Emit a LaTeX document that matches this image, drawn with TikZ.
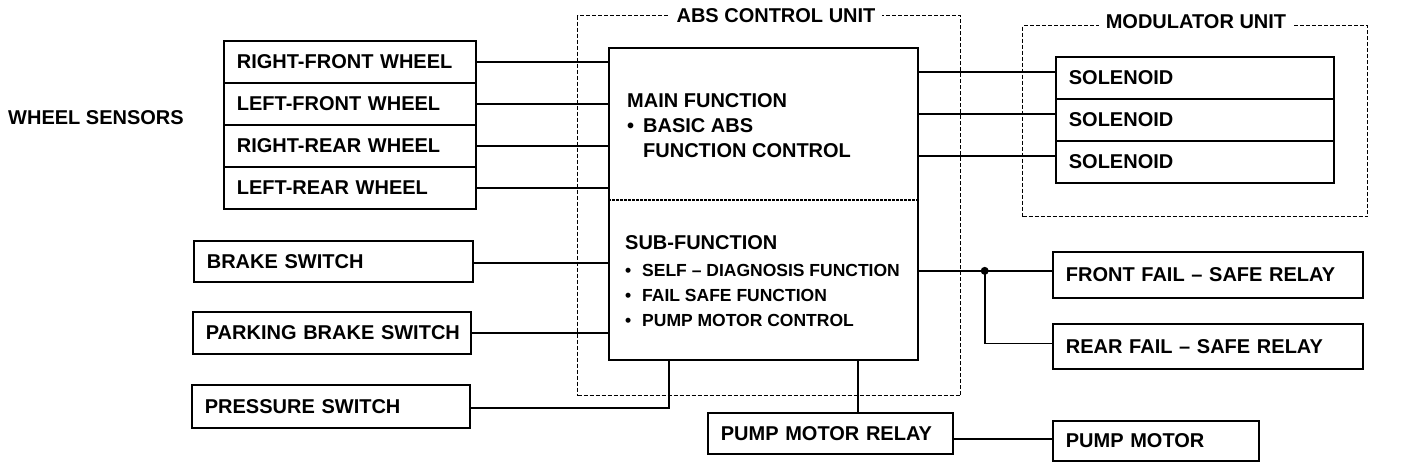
\documentclass[tikz,border=0pt]{standalone}
\usepackage{fontspec}
\setmainfont{Liberation Sans}
\usetikzlibrary{calc}
\begin{document}
\begin{tikzpicture}[x=1pt,y=-1pt,
  lbl/.style={font=\fontsize{20}{25}\selectfont\bfseries},
  sbox/.style n args={3}{draw, line width=1.7pt, anchor=north west, inner xsep=13pt, inner ysep=0pt,
     minimum width=#1, minimum height=#2, text width=#3, align=left, lbl},
  conn/.style={line width=1.6pt},
  grp/.style={draw, line width=1.2pt, dash pattern=on 4pt off 2pt, anchor=north west, inner sep=0pt},
  grptitle/.style={lbl, fill=white, inner xsep=7pt, inner ysep=1pt},
  divider/.style={line width=1.2pt, dash pattern=on 2.5pt off 1.5pt}]
\useasboundingbox (0,0) rectangle (1424,472);

% groups
\node[grp, minimum width=383, minimum height=380] (abs) at (577,15) {};
\node[grptitle] (abstitle) at (776,16) {ABS CONTROL UNIT};
\node[grp, minimum width=345, minimum height=191] (mod) at (1022,25) {};
\node[grptitle] (modtitle) at (1196,22) {MODULATOR UNIT};

% control box
\node[draw, line width=1.7pt, anchor=north west, minimum width=309, minimum height=312, inner sep=0pt] (ctrl) at (608,47) {};
\draw[divider] (ctrl.west |- 0,200) -- (ctrl.east |- 0,200);
\node[lbl, anchor=north west, inner sep=0pt, align=left] (mainf) at (627,93)
  {MAIN FUNCTION\\\makebox[16pt][l]{•}BASIC ABS\\\makebox[16pt][l]{}FUNCTION CONTROL};
\node[lbl, anchor=north west, inner sep=0pt] (subf) at (625,235) {SUB-FUNCTION};
\node[anchor=north west, inner sep=0pt, align=left, font=\fontsize{17.5}{25}\selectfont\bfseries] (subitems) at (625,264)
  {\makebox[17pt][l]{•}SELF – DIAGNOSIS FUNCTION\\\makebox[17pt][l]{•}FAIL SAFE FUNCTION\\\makebox[17pt][l]{•}PUMP MOTOR CONTROL};

% wheel sensors
\node[anchor=west, inner sep=0pt, lbl] (ws) at (8,118) {WHEEL SENSORS};
\node[sbox={252}{42}{226}] (rf) at (223,40) {RIGHT-FRONT WHEEL};
\node[sbox={252}{42}{226}] (lf) at (223,82) {LEFT-FRONT WHEEL};
\node[sbox={252}{42}{226}] (rr) at (223,124) {RIGHT-REAR WHEEL};
\node[sbox={252}{42}{226}] (lr) at (223,166) {LEFT-REAR WHEEL};

% switches
\node[sbox={279}{41}{253}] (brake) at (193,240) {BRAKE SWITCH};
\node[sbox={278}{42}{252}] (park) at (192,311) {\mbox{PARKING BRAKE SWITCH}};
\node[sbox={278}{43}{252}] (press) at (191,384) {PRESSURE SWITCH};

% solenoids
\node[sbox={278}{42}{252}] (sol1) at (1055,56) {SOLENOID};
\node[sbox={278}{42}{252}] (sol2) at (1055,98) {SOLENOID};
\node[sbox={278}{42}{252}] (sol3) at (1055,140) {SOLENOID};

% relays
\node[sbox={310}{46}{284}] (ffr) at (1052,251) {FRONT FAIL – SAFE RELAY};
\node[sbox={310}{45}{284}] (rfr) at (1052,323) {REAR FAIL – SAFE RELAY};
\node[sbox={245}{41}{219}] (pmr) at (707,412) {PUMP MOTOR RELAY};
\node[sbox={206}{40}{180}] (pm) at (1052,420) {PUMP MOTOR};

% connectors: wheels
\foreach \n in {rf,lf,rr,lr} \draw[conn] (\n.east) -- (\n.east -| ctrl.west);
% solenoids
\coordinate (s1) at ($(sol1.west)+(0,-6)$);
\coordinate (s2) at ($(sol2.west)+(0,-6)$);
\coordinate (s3) at ($(sol3.west)+(0,-6)$);
\draw[conn] (s1 -| ctrl.east) -- (s1);
\draw[conn] (s2 -| ctrl.east) -- (s2);
\draw[conn] (s3 -| ctrl.east) -- (s3);
% switches
\coordinate (bk) at ($(brake.east)+(0,1.5)$);
\draw[conn] (bk) -- (bk -| ctrl.west);
\draw[conn] (park.east) -- (park.east -| ctrl.west);
\coordinate (pin) at ($(ctrl.south west)+(61,0)$);
\coordinate (ps) at ($(press.east)+(0,1.5)$);
\draw[conn] (ps) -| (pin);
% pump motor relay
\coordinate (pout) at ($(ctrl.south west)+(250,0)$);
\draw[conn] (pout) -- (pout |- pmr.north);
\coordinate (pml) at ($(pm.west)+(0,-2)$);
\draw[conn] (pml -| pmr.east) -- (pml);
% fail-safe relays
\coordinate (fl) at ($(ffr.west)+(0,-4)$);
\coordinate (rl) at ($(rfr.west)+(0,-3)$);
\draw[conn] (fl -| ctrl.east) -- (fl);
\coordinate (jn) at ($(ctrl.east |- fl)+(66,0)$);
\draw[conn] (jn) |- (rl);
\fill (jn) circle (4pt);
\end{tikzpicture}
\end{document}
